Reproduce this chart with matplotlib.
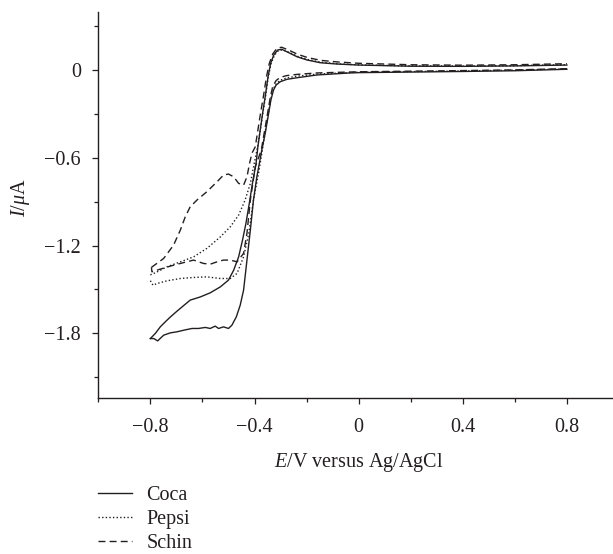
import matplotlib
matplotlib.use("Agg")
import matplotlib.pyplot as plt
from matplotlib.ticker import FixedLocator
from matplotlib.lines import Line2D

plt.rcParams['font.family'] = ['Liberation Serif', 'DejaVu Serif']
plt.rcParams['mathtext.fontset'] = 'custom'
plt.rcParams['mathtext.rm'] = 'Liberation Serif'
plt.rcParams['mathtext.it'] = 'Liberation Serif:italic'
plt.rcParams['mathtext.bf'] = 'Liberation Serif:bold'

INK = '#231f20'
FS = 14.5

# ---- data: potential E (V) and current I (uA); forward (upper) and reverse (lower) branches
coca_fwd_E = [-0.800, -0.781, -0.762, -0.743, -0.723, -0.698, -0.672, -0.647, -0.608, -0.570,
              -0.531, -0.500, -0.480, -0.461, -0.446, -0.433, -0.420, -0.408, -0.394,
              -0.387, -0.378, -0.369, -0.359, -0.348, -0.338, -0.326, -0.311, -0.295, -0.269,
              -0.237, -0.199, -0.148, -0.084, 0.0, 0.2, 0.4, 0.6, 0.8]
coca_fwd_I = [-1.836, -1.801, -1.756, -1.722, -1.688, -1.649, -1.610, -1.573, -1.551, -1.523,
              -1.482, -1.436, -1.368, -1.277, -1.162, -1.048, -0.911, -0.774, -0.637,
              -0.523, -0.409, -0.295, -0.181, -0.044, 0.048, 0.105, 0.139, 0.144, 0.121,
              0.093, 0.071, 0.052, 0.043, 0.036, 0.028, 0.027, 0.030, 0.036]
coca_rev_E = [0.8, 0.6, 0.4, 0.2, 0.0, -0.033, -0.160, -0.237, -0.276, -0.301, -0.317, -0.327,
              -0.337, -0.348, -0.359, -0.372, -0.391, -0.404, -0.416, -0.429, -0.442, -0.455,
              -0.470, -0.487, -0.500, -0.519, -0.538, -0.551, -0.570, -0.589, -0.615, -0.640,
              -0.672, -0.698, -0.723, -0.749, -0.772, -0.787, -0.800]
coca_rev_I = [0.007, -0.003, -0.008, -0.012, -0.016, -0.018, -0.032, -0.051, -0.062, -0.078, -0.101, -0.135,
              -0.203, -0.318, -0.432, -0.546, -0.729, -0.888, -1.094, -1.299, -1.505, -1.608,
              -1.688, -1.745, -1.767, -1.756, -1.767, -1.751, -1.767, -1.760, -1.767, -1.767,
              -1.779, -1.790, -1.797, -1.813, -1.852, -1.836, -1.836]

pepsi_fwd_E = [-0.800, -0.781, -0.736, -0.685, -0.634, -0.583, -0.531, -0.493, -0.461, -0.436,
               -0.416, -0.401, -0.388, -0.378, -0.368, -0.358, -0.347, -0.336, -0.323, -0.308,
               -0.292, -0.266, -0.234, -0.196, -0.145, -0.080, 0.0, 0.2, 0.4, 0.6, 0.8]
pepsi_fwd_I = [-1.400, -1.386, -1.345, -1.311, -1.277, -1.219, -1.140, -1.071, -0.991, -0.888,
               -0.774, -0.637, -0.523, -0.409, -0.295, -0.181, -0.044, 0.048, 0.105, 0.135,
               0.140, 0.122, 0.095, 0.074, 0.055, 0.045, 0.037, 0.030, 0.029, 0.032, 0.038]
pepsi_rev_E = [0.8, 0.6, 0.4, 0.2, 0.0, -0.160, -0.237, -0.276, -0.301, -0.317, -0.328, -0.338,
               -0.349, -0.360, -0.370, -0.384, -0.404, -0.422, -0.442, -0.467, -0.493, -0.531,
               -0.583, -0.634, -0.685, -0.736, -0.774, -0.790, -0.800]
pepsi_rev_I = [0.010, 0.001, -0.005, -0.009, -0.013, -0.026, -0.040, -0.052, -0.068, -0.092, -0.128, -0.200,
               -0.318, -0.432, -0.546, -0.700, -0.888, -1.116, -1.277, -1.390, -1.425, -1.425,
               -1.414, -1.418, -1.425, -1.441, -1.459, -1.471, -1.440]

schin_fwd_E = [-0.796, -0.749, -0.711, -0.685, -0.666, -0.647, -0.621, -0.583, -0.544, -0.519,
               -0.500, -0.480, -0.461, -0.442, -0.429, -0.419, -0.410, -0.397, -0.387, -0.377,
               -0.366, -0.354, -0.343, -0.330, -0.314, -0.296, -0.268, -0.235, -0.196, -0.145,
               -0.080, 0.0, 0.2, 0.4, 0.6, 0.8]
schin_fwd_I = [-1.349, -1.288, -1.197, -1.094, -1.003, -0.934, -0.888, -0.831, -0.763, -0.717,
               -0.710, -0.729, -0.774, -0.786, -0.729, -0.637, -0.568, -0.523, -0.409, -0.295,
               -0.181, -0.044, 0.048, 0.112, 0.150, 0.158, 0.138, 0.110, 0.087, 0.068,
               0.057, 0.048, 0.038, 0.035, 0.038, 0.045]
schin_rev_E = [0.8, 0.6, 0.4, 0.2, 0.0, -0.160, -0.237, -0.276, -0.301, -0.317, -0.330, -0.340,
               -0.352, -0.363, -0.374, -0.397, -0.416, -0.429, -0.442, -0.467, -0.493, -0.519,
               -0.544, -0.570, -0.596, -0.634, -0.685, -0.723, -0.762, -0.794, -0.796]
schin_rev_I = [0.011, 0.003, -0.002, -0.006, -0.010, -0.018, -0.028, -0.036, -0.048, -0.070, -0.110, -0.190,
               -0.318, -0.432, -0.546, -0.660, -0.888, -1.116, -1.253, -1.311, -1.299, -1.299,
               -1.311, -1.327, -1.322, -1.299, -1.322, -1.340, -1.361, -1.379, -1.349]

series_names = ['Coca', 'Pepsi', 'Schin']
x_major = [-0.8, -0.4, 0.0, 0.4, 0.8]
x_minor = [-1.0, -0.6, -0.2, 0.2, 0.6, 1.0]
y_major = [0.0, -0.6, -1.2, -1.8]
y_minor = [0.3, -0.3, -0.9, -1.5, -2.1]
x_labels = ['\u22120.8', '\u22120.4', '0', '0.4', '0.8']
y_labels = ['0', '\u22120.6', '\u22121.2', '\u22121.8']

W, H = 613, 554
fig = plt.figure(figsize=(W / 100, H / 100), dpi=100)
left_px, right_px, top_px, bot_px = 98.3, 619.0, 12.3, 398.3
ax = fig.add_axes([left_px / W, 1 - bot_px / H, (right_px - left_px) / W, (bot_px - top_px) / H])

styles = [dict(linestyle='-', lw=1.0),
          dict(linestyle=(0, (1, 1.6)), lw=1.0),
          dict(linestyle=(0, (5, 3)), lw=1.0)]
branches = [((coca_fwd_E, coca_fwd_I), (coca_rev_E, coca_rev_I)),
            ((pepsi_fwd_E, pepsi_fwd_I), (pepsi_rev_E, pepsi_rev_I)),
            ((schin_fwd_E, schin_fwd_I), (schin_rev_E, schin_rev_I))]
for (fwd, rev), st in zip(branches, styles):
    ax.plot(fwd[0], fwd[1], color=INK, solid_joinstyle='round', **st)
    ax.plot(rev[0], rev[1], color=INK, solid_joinstyle='round', **st)

ax.set_xlim(-1.0, 1.0)
ax.set_ylim(-2.245, 0.397)
for s in ['top', 'right']:
    ax.spines[s].set_visible(False)
for s in ['left', 'bottom']:
    ax.spines[s].set_linewidth(1.0)
    ax.spines[s].set_color(INK)

ax.xaxis.set_major_locator(FixedLocator(x_major))
ax.xaxis.set_minor_locator(FixedLocator(x_minor))
ax.yaxis.set_major_locator(FixedLocator(y_major))
ax.yaxis.set_minor_locator(FixedLocator(y_minor))
ax.set_xticklabels(x_labels)
ax.set_yticklabels(y_labels)
ax.tick_params(which='major', length=4.5, width=0.9, color=INK, labelsize=FS, labelcolor=INK)
ax.tick_params(which='minor', length=2.6, width=0.9, color=INK)
ax.tick_params(axis='x', which='major', pad=10)
ax.tick_params(axis='y', which='major', pad=8)

fig.text(358.8 / W, 1 - 466.7 / H, r'$E$/V versus Ag/AgCl', ha='center', va='baseline',
         fontsize=FS, color=INK)
fig.text(20 / W, 1 - 197.5 / H, r'$I$/$\mu$A', ha='center', va='center', rotation=90,
         fontsize=FS, color=INK)

handles = [Line2D([], [], color=INK, **st) for st in styles]
fig.legend(handles, series_names, loc='upper left', bbox_to_anchor=(98 / W, 1 - 486 / H),
           bbox_transform=fig.transFigure, frameon=False, fontsize=FS,
           handlelength=1.7, handletextpad=0.7, labelspacing=0.25, borderpad=0,
           borderaxespad=0, labelcolor=INK)

fig.savefig('out.png', dpi=100)
